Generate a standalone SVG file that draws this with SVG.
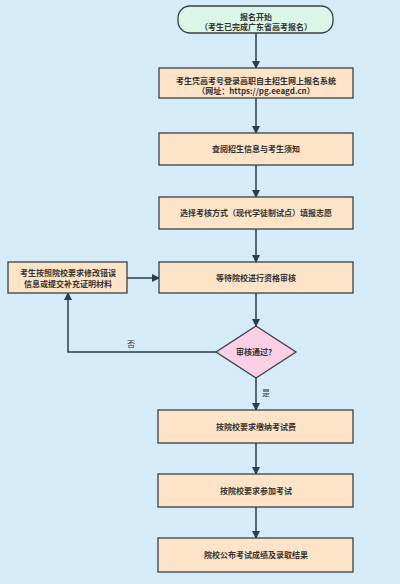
<svg xmlns="http://www.w3.org/2000/svg" width="400" height="584" viewBox="0 0 400 584">
<style>
.bg{fill:#d5ebf8}
.box{fill:#fde4c8;stroke:#3a3f46;stroke-width:1.3}
.start{fill:#d9f6e6;stroke:#3a3f46;stroke-width:1.3}
.dia{fill:#fbd0e6;stroke:#3a3f46;stroke-width:1.3}
.t{font-family:"Noto Sans CJK SC","Noto Sans",sans-serif;font-size:8px;font-weight:700;fill:#333;text-anchor:middle}
.lbl{font-family:"Noto Sans CJK SC","Noto Sans",sans-serif;font-size:8px;fill:#333;text-anchor:middle}
.c{fill:none;stroke:#2e3d4d;stroke-width:1.5}
</style>
<defs>
<marker id="ah" markerWidth="8" markerHeight="8" refX="7" refY="4" orient="auto" markerUnits="userSpaceOnUse">
<path d="M0,0 L8,4 L0,8 Z" fill="#2e3d4d"/>
</marker>
</defs>
<rect class="bg" x="0" y="0" width="400" height="584"/>
<g id="connectors">
<line class="c" x1="256" y1="33" x2="256" y2="68" marker-end="url(#ah)"/>
<line class="c" x1="256" y1="98" x2="256" y2="133" marker-end="url(#ah)"/>
<line class="c" x1="256" y1="165" x2="256" y2="197" marker-end="url(#ah)"/>
<line class="c" x1="256" y1="229" x2="256" y2="262" marker-end="url(#ah)"/>
<line class="c" x1="256" y1="293" x2="256" y2="326" marker-end="url(#ah)"/>
<line class="c" x1="256" y1="378" x2="256" y2="410" marker-end="url(#ah)"/>
<line class="c" x1="256" y1="443" x2="256" y2="474" marker-end="url(#ah)"/>
<line class="c" x1="256" y1="507" x2="256" y2="538" marker-end="url(#ah)"/>
<line class="c" x1="127" y1="278" x2="159" y2="278" marker-end="url(#ah)"/>
<polyline class="c" points="216,352 68,352 68,293" marker-end="url(#ah)"/>
<text class="lbl" x="131" y="347">否</text>
<text class="lbl" x="266" y="396">是</text>
</g>
<g id="start">
<rect class="start" x="178" y="6" width="155" height="27" rx="12"/>
<text class="t" x="256" y="19.5">报名开始</text>
<text class="t" x="256" y="30">（考生已完成广东省高考报名）</text>
</g>
<g id="login">
<rect class="box" x="159" y="68" width="194" height="30"/>
<text class="t" x="256" y="83.5">考生凭高考号登录高职自主招生网上报名系统</text>
<text class="t" x="256" y="93.5">（网址：https://pg.eeagd.cn）</text>
</g>
<g id="browse">
<rect class="box" x="159" y="133" width="194" height="32"/>
<text class="t" x="256" y="152">查阅招生信息与考生须知</text>
</g>
<g id="choose">
<rect class="box" x="159" y="197" width="194" height="32"/>
<text class="t" x="256" y="216">选择考核方式（现代学徒制试点）填报志愿</text>
</g>
<g id="wait">
<rect class="box" x="159" y="262" width="194" height="31"/>
<text class="t" x="256" y="281">等待院校进行资格审核</text>
</g>
<g id="fix">
<rect class="box" x="8" y="262" width="119" height="31"/>
<text class="t" x="68" y="276">考生按照院校要求修改错误</text>
<text class="t" x="68" y="286.5">信息或提交补充证明材料</text>
</g>
<g id="decision">
<polygon class="dia" points="256,326 296,352 256,378 216,352"/>
<text class="t" x="256" y="355">审核通过？</text>
</g>
<g id="fee">
<rect class="box" x="158" y="410" width="195" height="33"/>
<text class="t" x="256" y="430">按院校要求缴纳考试费</text>
</g>
<g id="exam">
<rect class="box" x="158" y="474" width="195" height="33"/>
<text class="t" x="256" y="494">按院校要求参加考试</text>
</g>
<g id="result">
<rect class="box" x="158" y="538" width="195" height="34"/>
<text class="t" x="256" y="558">院校公布考试成绩及录取结果</text>
</g>
</svg>
